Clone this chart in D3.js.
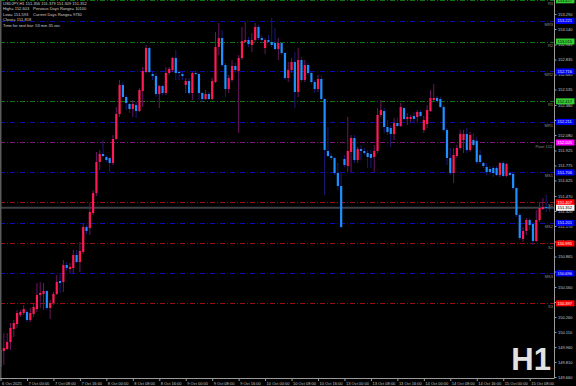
<!DOCTYPE html>
<html>
<head>
<meta charset="utf-8">
<script src="https://d3js.org/d3.v7.min.js"></script>
<style>
  html, body { margin: 0; padding: 0; background: #000; }
  svg { display: block; }
  text { font-family: "Liberation Sans", Arial, sans-serif; }
</style>
</head>
<body>
<svg id="chart" width="576" height="386"></svg>
<script>
// USDJPY H1 candles, bar 0 = 6 Oct 16:00
const opens = [
  149.76,149.92,149.94,150.01,150.14,150.19,150.28,150.30,150.31,150.23,
  150.29,150.34,150.48,150.49,150.52,150.35,150.40,150.49,150.62,150.61,
  150.78,150.74,150.75,150.88,150.81,150.91,151.16,151.15,151.30,151.50,
  151.81,151.89,151.86,151.85,151.80,152.04,152.29,152.58,152.46,152.39,
  152.34,152.38,152.32,152.52,152.71,152.95,152.69,152.67,152.49,152.57,
  152.50,152.70,152.73,152.85,152.71,152.69,152.58,152.62,152.50,152.70,
  152.69,152.50,152.44,152.49,152.44,152.61,152.96,153.05,152.78,152.54,
  152.63,152.77,152.72,152.85,153.01,153.03,152.98,153.03,153.16,153.05,
  152.95,153.03,153.01,153.00,152.94,153.00,152.90,152.65,152.73,152.81,
  152.51,152.83,152.63,152.78,152.70,152.61,152.54,152.64,152.44,151.92,
  151.87,151.85,151.70,151.57,151.84,151.77,151.91,152.05,151.83,151.94,
  151.92,151.90,151.89,151.86,151.92,152.28,152.32,152.16,152.15,152.09,
  152.20,152.17,152.35,152.24,152.24,152.27,152.26,152.31,152.13,152.19,
  152.32,152.43,152.45,152.44,152.36,152.13,151.85,151.70,151.87,151.95,
  152.03,152.09,151.93,152.03,152.02,151.88,151.80,151.76,151.74,151.75,
  151.75,151.68,151.80,151.67,151.70,151.69,151.55,151.28,151.04,151.12,
  151.23,151.19,151.02,151.23,151.34,151.36,151.356
];
const highs = [
  150.07,150.10,150.10,150.20,150.23,150.33,150.33,150.38,150.33,150.35,
  150.40,150.60,150.61,150.60,150.53,150.43,150.51,150.68,150.70,150.83,
  150.81,150.80,150.93,150.93,151.01,151.19,151.18,151.40,151.53,151.91,
  151.93,152.03,151.88,151.86,152.08,152.36,152.63,152.61,152.48,152.40,
  152.43,152.41,152.55,152.76,152.98,152.96,152.71,152.70,152.58,152.58,
  152.76,152.76,152.86,152.93,152.73,152.71,152.65,152.65,152.71,152.73,
  152.70,152.51,152.53,152.51,152.65,153.11,153.20,153.13,152.80,152.68,
  152.83,152.80,152.88,153.16,153.21,153.06,153.10,153.20,153.18,153.08,
  153.05,153.08,153.25,153.15,153.05,153.01,152.91,152.81,152.85,152.91,
  152.95,152.86,152.83,152.80,152.71,152.63,152.68,152.68,152.45,152.16,
  151.90,151.86,151.80,151.70,151.88,152.26,152.08,152.08,151.96,151.98,
  151.95,151.93,151.93,151.98,152.35,152.43,152.35,152.23,152.18,152.25,
  152.25,152.40,152.36,152.30,152.28,152.31,152.33,152.33,152.27,152.38,
  152.53,152.59,152.47,152.46,152.38,152.15,151.95,151.95,151.98,152.13,
  152.13,152.15,152.11,152.10,152.06,151.93,151.81,151.80,151.77,151.77,
  151.77,151.81,151.82,151.80,151.72,151.70,151.56,151.30,151.16,151.25,
  151.25,151.21,151.33,151.41,151.45,151.48,151.379
];
const lows = [
  149.73,149.78,149.93,149.93,150.06,150.15,150.26,150.28,150.21,150.21,
  150.26,150.31,150.35,150.33,150.33,150.24,150.38,150.48,150.50,150.51,
  150.72,150.70,150.70,150.80,150.71,150.89,151.09,151.08,151.28,151.47,
  151.73,151.86,151.81,151.71,151.78,152.03,152.26,152.45,152.33,152.30,
  152.26,152.25,152.31,152.36,152.70,152.70,152.63,152.46,152.35,152.48,
  152.48,152.68,152.71,152.63,152.63,152.63,152.50,152.48,152.43,152.68,
  152.43,152.41,152.43,152.43,152.43,152.60,152.88,152.76,152.46,152.50,
  152.61,152.70,152.10,152.83,153.00,152.96,152.91,153.01,153.03,153.00,
  152.89,153.00,152.96,152.93,152.83,152.88,152.63,152.61,152.70,152.35,
  152.46,152.61,152.61,152.68,152.59,152.50,152.51,152.43,151.48,151.86,
  151.83,151.68,151.53,151.15,151.76,151.71,151.71,151.80,151.80,151.83,
  151.88,151.75,151.75,151.71,151.90,152.26,152.10,152.08,151.96,152.03,
  152.16,152.16,152.23,152.18,152.21,152.21,152.21,152.26,152.10,152.15,
  152.31,152.42,152.40,152.35,152.11,151.78,151.68,151.60,151.85,151.93,
  151.90,151.90,151.91,151.96,151.79,151.79,151.75,151.68,151.69,151.66,
  151.67,151.66,151.66,151.66,151.67,151.53,151.26,151.03,151.01,151.08,
  151.13,150.98,151.01,151.21,151.33,151.31,151.309
];
const closes = [
  149.93,149.95,150.01,150.15,150.20,150.30,150.31,150.34,150.23,150.30,
  150.36,150.48,150.50,150.52,150.35,150.40,150.49,150.61,150.60,150.78,
  150.75,150.76,150.88,150.81,150.92,151.16,151.12,151.31,151.50,151.81,
  151.89,151.87,151.83,151.80,152.04,152.29,152.58,152.46,152.40,152.34,
  152.39,152.32,152.53,152.72,152.95,152.71,152.67,152.49,152.57,152.50,
  152.70,152.74,152.85,152.70,152.70,152.67,152.62,152.50,152.70,152.69,
  152.50,152.44,152.49,152.44,152.62,152.96,153.05,152.78,152.54,152.65,
  152.77,152.73,152.85,153.02,153.03,152.99,153.03,153.16,153.05,153.03,
  153.03,153.01,152.98,152.94,153.00,152.90,152.65,152.73,152.81,152.51,
  152.83,152.63,152.78,152.70,152.61,152.54,152.64,152.44,151.93,151.87,
  151.85,151.70,151.57,151.16,151.78,151.92,152.05,151.83,151.94,151.92,
  151.90,151.86,151.85,151.92,152.28,152.33,152.16,152.11,152.09,152.20,
  152.17,152.36,152.24,152.26,152.26,152.24,152.31,152.27,152.23,152.33,
  152.45,152.45,152.42,152.36,152.13,151.85,151.70,151.88,151.95,152.09,
  152.09,151.93,152.08,151.98,151.81,151.81,151.77,151.71,151.71,151.70,
  151.68,151.80,151.67,151.79,151.68,151.55,151.28,151.05,151.12,151.23,
  151.18,151.02,151.23,151.35,151.36,151.35,151.352
];

// time axis labels and the bar index they sit on
const timeLabels = ["6 Oct 2025","7 Oct 00:00","7 Oct 08:00","7 Oct 16:00","8 Oct 00:00","8 Oct 08:00",
  "8 Oct 16:00","9 Oct 00:00","9 Oct 08:00","9 Oct 16:00","10 Oct 00:00","10 Oct 08:00","10 Oct 16:00",
  "13 Oct 00:00","13 Oct 08:00","13 Oct 16:00","14 Oct 00:00","14 Oct 08:00","14 Oct 16:00",
  "15 Oct 00:00","15 Oct 08:00"];
const timeBars = [0,8,16,24,32,40,48,56,64,72,80,88,96,104,112,120,128,136,144,152,160];

// price axis
const priceTicks = [153.290,153.140,152.985,152.835,152.685,152.535,152.380,152.230,152.080,151.925,
  151.775,151.625,151.470,151.320,151.170,151.015,150.865,150.715,150.560,150.410,150.260,150.110,
  149.960,149.810,149.660];

// pivot levels
const levelNames  = ["R3","MR3","R2","MR2","R1","MR1","Pivot","MS1","S1","MS2","S2","MS3","S3"];
const levelValues = [153.427,153.221,153.015,152.716,152.417,152.211,152.005,151.706,151.407,151.201,150.995,150.696,150.397];
const levelKinds  = ["r","m","r","m","r","m","p","m","s","m","s","m","s"];

const headerLines = [
  ["USDJPY,H1  151.356 151.379 151.309 151.352", ""],
  ["High= 152.603", "Previous Days Range= 10100"],
  ["Low= 151.593", "Current Days Range= 9730"],
  ["Close= 151.818", ""],
  ["Time for next bar: 53 min 35 sec", ""]
];

const W = 576, H = 386, plotR = 554, plotB = 378;
const svg = d3.select("#chart");
svg.append("rect").attr("width", W).attr("height", H).attr("fill", "#000");

const y = d3.scaleLinear().domain([149.66, 153.29]).range([377, 14]);
const x = d3.scaleLinear().domain([0, 166]).range([0.54, 0.54 + 166 * 3.307]);

const lineColor = {r: "#137013", m: "#0d0da8", p: "#7a167a", s: "#961212"};
const boxColor  = {r: "#33cc33", m: "#0000ff", p: "#ff00ff", s: "#ff0000"};
const boxText   = {r: "#000", m: "#e8e8e8", p: "#fff", s: "#fff"};

const plot = svg.append("g");

// level lines
plot.selectAll("line.lvl").data(levelValues).enter().append("line")
  .attr("x1", 0).attr("x2", plotR)
  .attr("y1", d => Math.round(y(d)) + 0.5).attr("y2", d => Math.round(y(d)) + 0.5)
  .attr("stroke", (d, i) => lineColor[levelKinds[i]])
  .attr("stroke-width", 1)
  .attr("stroke-dasharray", "5,2,1,2");

// bid line
const last = closes.length - 1;
plot.append("line")
  .attr("x1", 0).attr("x2", plotR)
  .attr("y1", y(closes[last])).attr("y2", y(closes[last]))
  .attr("stroke", "#3c4146").attr("stroke-width", 2);

// candles
const bars = d3.range(opens.length);
plot.selectAll("line.wick").data(bars).enter().append("line")
  .attr("x1", i => x(i)).attr("x2", i => x(i))
  .attr("y1", i => y(highs[i])).attr("y2", i => y(lows[i]))
  .attr("stroke", i => closes[i] >= opens[i] ? "#6a1660" : "#18187e")
  .attr("stroke-width", 1);
plot.selectAll("rect.body").data(bars).enter().append("rect")
  .attr("x", i => x(i) - 1.1).attr("width", 2.2)
  .attr("y", i => y(Math.max(opens[i], closes[i])))
  .attr("height", i => Math.max(1, Math.abs(y(opens[i]) - y(closes[i]))))
  .attr("fill", i => closes[i] >= opens[i] ? "#ff1a55" : "#1e90ff");

// left border strip
svg.append("rect").attr("x", 0).attr("y", 0).attr("width", 1.5).attr("height", plotB).attr("fill", "#5a5a5a");

// level names near the right edge
plot.selectAll("text.lname").data(levelValues).enter().append("text")
  .attr("x", (d, i) => levelKinds[i] === "p" ? 535.5 : 553)
  .attr("text-anchor", (d, i) => levelKinds[i] === "p" ? "start" : "end")
  .attr("y", d => y(d) + 5)
  .attr("font-size", 4)
  .attr("fill", "#8a8a8a")
  .text((d, i) => levelKinds[i] === "p" ? "Pivot " + d.toFixed(3) : levelNames[i]);

// header
const hdr = svg.append("g").attr("fill", "#d0d0d0").attr("font-size", 4);
headerLines.forEach((row, k) => {
  hdr.append("text").attr("x", 3).attr("y", 5 + k * 5.4).text(row[0]);
  if (row[1]) hdr.append("text").attr("x", 33).attr("y", 5 + k * 5.4).text(row[1]);
});

// H1 watermark
svg.append("text").attr("x", 551).attr("y", 370).attr("text-anchor", "end")
  .attr("font-size", 31).attr("font-weight", "bold").attr("fill", "#e2e2e2").text("H1");

// axis panels
svg.append("rect").attr("x", plotR).attr("y", 0).attr("width", W - plotR).attr("height", H).attr("fill", "#000");
svg.append("rect").attr("x", 0).attr("y", plotB).attr("width", W).attr("height", H - plotB).attr("fill", "#000");

const yAxis = svg.append("g")
  .attr("transform", "translate(" + (plotR + 0.5) + ",0)")
  .call(d3.axisRight(y).tickValues(priceTicks).tickFormat(d3.format(".3f")).tickSize(2).tickPadding(1.5));
yAxis.select(".domain").attr("stroke", "#9a9a9a").attr("d", "M0,0V" + plotB);
yAxis.selectAll(".tick line").attr("stroke", "#9a9a9a");
yAxis.selectAll("text").attr("font-size", 4).attr("fill", "#c8c8c8").attr("font-family", "Liberation Sans");

const xAxis = svg.append("g")
  .attr("transform", "translate(0," + (plotB + 0.5) + ")")
  .call(d3.axisBottom(x).tickValues(timeBars).tickFormat((d, i) => timeLabels[i]).tickSize(2.5).tickPadding(1));
xAxis.select(".domain").attr("stroke", "#9a9a9a").attr("d", "M0,0H" + (plotR + 0.5));
xAxis.selectAll(".tick line").attr("stroke", "#9a9a9a");
xAxis.selectAll("text").attr("font-size", 4).attr("fill", "#c8c8c8").attr("font-family", "Liberation Sans")
  .attr("text-anchor", "start").attr("x", 1);

// price boxes for levels and current price
const boxes = svg.append("g");
levelValues.forEach((v, i) => {
  const k = levelKinds[i];
  boxes.append("rect").attr("x", plotR + 2).attr("y", y(v) - 3).attr("width", 18.5).attr("height", 6)
    .attr("fill", boxColor[k]);
  boxes.append("text").attr("x", plotR + 3.5).attr("y", y(v) + 1.5).attr("font-size", 4)
    .attr("fill", boxText[k]).text(v.toFixed(3));
});
boxes.append("rect").attr("x", plotR + 2).attr("y", y(closes[last]) - 3).attr("width", 18.5).attr("height", 6)
  .attr("fill", "#f4f4f4");
boxes.append("text").attr("x", plotR + 3.5).attr("y", y(closes[last]) + 1.5).attr("font-size", 4)
  .attr("fill", "#000").text(closes[last].toFixed(3));
</script>
</body>
</html>
